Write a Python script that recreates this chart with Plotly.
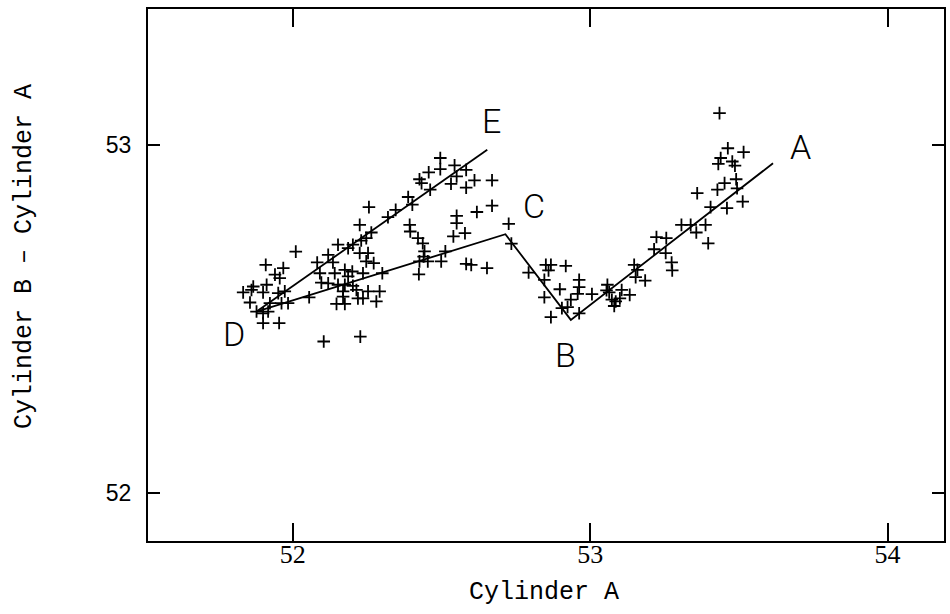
import plotly.graph_objects as go

# Scatter of the measured pairs: x = Cylinder A, y = Cylinder B - Cylinder A
cyl_a = [
    52.496, 52.496, 52.457, 52.544, 52.583, 52.551, 52.426, 52.433, 52.532, 52.611,
    52.670, 52.583, 52.462, 52.388, 52.402, 52.346, 52.320, 52.256, 52.670, 52.619,
    52.551, 52.551, 52.540, 52.579, 52.726, 52.735, 52.793, 52.393, 52.395, 52.421,
    52.437, 52.443, 52.440, 52.454, 52.426, 52.499, 52.513, 52.583, 52.600, 52.653,
    52.424, 52.301, 52.225, 52.264, 52.247, 52.230, 52.152, 52.186, 52.202, 52.119,
    52.225, 52.253, 52.247, 52.272, 52.082, 52.135, 52.091, 52.141, 52.175, 52.200,
    52.186, 52.236, 52.096, 52.119, 52.152, 52.175, 52.202, 52.169, 52.214, 52.253,
    52.292, 52.219, 52.236, 52.281, 52.147, 52.175, 52.169, 52.055, 52.010, 51.909,
    51.968, 51.940, 51.956, 51.867, 51.912, 51.833, 51.861, 51.900, 51.951, 51.973,
    51.856, 51.923, 51.962, 51.984, 51.878, 51.900, 51.917, 51.900, 51.954, 52.104,
    52.227,
    52.851, 52.868, 52.860, 52.918, 52.846, 52.963, 52.963, 52.958, 52.898, 52.846,
    52.935, 52.905, 52.924, 52.868, 52.963, 53.006, 53.058, 53.055, 53.064, 53.073,
    53.081, 53.086, 53.106, 53.133, 53.100, 53.148, 53.159, 53.153, 53.185,
    53.435, 53.463, 53.516, 53.439, 53.431, 53.478, 53.487, 53.491, 53.452, 53.428,
    53.494, 53.513, 53.360, 53.405, 53.460, 53.307, 53.338, 53.388, 53.357, 53.397,
    53.223, 53.256, 53.215, 53.254, 53.274, 53.276,
]
cyl_b_minus_a = [
    52.962, 52.930, 52.921, 52.941, 52.928, 52.909, 52.901, 52.890, 52.888, 52.898,
    52.898, 52.877, 52.871, 52.850, 52.828, 52.813, 52.792, 52.821, 52.825, 52.807,
    52.796, 52.775, 52.737, 52.746, 52.773, 52.716, 52.633, 52.770, 52.751, 52.732,
    52.717, 52.694, 52.679, 52.665, 52.665, 52.665, 52.694, 52.658, 52.655, 52.646,
    52.628, 52.631, 52.770, 52.748, 52.732, 52.725, 52.713, 52.703, 52.713, 52.684,
    52.689, 52.689, 52.665, 52.660, 52.662, 52.662, 52.631, 52.631, 52.641, 52.636,
    52.622, 52.631, 52.604, 52.602, 52.598, 52.598, 52.595, 52.579, 52.583, 52.579,
    52.579, 52.559, 52.559, 52.550, 52.543, 52.543, 52.564, 52.562, 52.693, 52.655,
    52.646, 52.627, 52.617, 52.593, 52.598, 52.576, 52.583, 52.576, 52.574, 52.579,
    52.547, 52.545, 52.545, 52.545, 52.521, 52.516, 52.521, 52.488, 52.488, 52.435,
    52.449,
    52.655, 52.655, 52.639, 52.652, 52.612, 52.612, 52.591, 52.572, 52.585, 52.562,
    52.555, 52.531, 52.534, 52.505, 52.516, 52.571, 52.598, 52.582, 52.576, 52.555,
    52.537, 52.550, 52.583, 52.569, 52.559, 52.655, 52.641, 52.620, 52.610,
    53.091, 52.990, 52.979, 52.962, 52.945, 52.952, 52.940, 52.901, 52.890, 52.871,
    52.875, 52.837, 52.861, 52.821, 52.818, 52.770, 52.770, 52.770, 52.748, 52.717,
    52.735, 52.732, 52.700, 52.689, 52.662, 52.639,
]

# Fitted branches: D-E, and D-C-B-A
branch_de_x = [51.878, 52.654]
branch_de_y = [52.521, 52.986]
branch_dcba_x = [51.878, 52.715, 52.935, 53.615]
branch_dcba_y = [52.521, 52.743, 52.497, 52.947]

# Letters naming the branch ends and corners
point_names = ["A", "B", "C", "D", "E"]
name_x = [53.707, 52.916, 52.812, 51.802, 52.667]
name_y = [52.995, 52.397, 52.823, 52.456, 53.067]

x_ticks = [52, 53, 54]
y_ticks = [52, 53]

fig = go.Figure()

fig.add_trace(go.Scatter(
    x=cyl_a, y=cyl_b_minus_a, mode="markers",
    marker=dict(symbol="cross-thin", size=9, color="black",
                line=dict(color="black", width=1.8)),
    hoverinfo="skip", showlegend=False,
))
fig.add_trace(go.Scatter(
    x=branch_de_x, y=branch_de_y, mode="lines",
    line=dict(color="black", width=1.8), showlegend=False,
))
fig.add_trace(go.Scatter(
    x=branch_dcba_x, y=branch_dcba_y, mode="lines",
    line=dict(color="black", width=1.8), showlegend=False,
))

for name, nx, ny in zip(point_names, name_x, name_y):
    fig.add_annotation(
        x=nx, y=ny, text=name, showarrow=False,
        xanchor="center", yanchor="middle",
        font=dict(family="Roboto", size=34, color="black", weight=300),
    )

# Axis titles
fig.add_annotation(
    x=0.497, y=-0.096, xref="paper", yref="paper", text="Cylinder A",
    showarrow=False, xanchor="center", yanchor="middle",
    font=dict(family="Liberation Mono", size=25, color="black"),
)
fig.add_annotation(
    x=-0.155, y=0.535, xref="paper", yref="paper",
    text="Cylinder B \u2013 Cylinder A", textangle=-90,
    showarrow=False, xanchor="center", yanchor="middle",
    font=dict(family="Liberation Mono", size=25, color="black"),
)

fig.update_xaxes(
    range=[51.513, 54.19], tickvals=x_ticks, ticktext=[str(v) for v in x_ticks],
    ticks="inside", ticklen=18, tickwidth=2, tickcolor="black",
    showline=True, linewidth=2, linecolor="black", mirror="ticks",
    showgrid=False, zeroline=False, ticklabelstandoff=-11,
    tickfont=dict(family="Liberation Serif", size=26, color="black"),
)
fig.update_yaxes(
    range=[51.862, 53.39], tickvals=y_ticks, ticktext=[str(v) for v in y_ticks],
    ticks="inside", ticklen=12, tickwidth=2, tickcolor="black",
    showline=True, linewidth=2, linecolor="black", mirror="ticks",
    showgrid=False, zeroline=False, ticklabelstandoff=10,
    tickfont=dict(family="Liberation Sans", size=23, color="black"),
)

fig.update_layout(
    width=950, height=614,
    margin=dict(l=148, r=4, t=9, b=73),
    paper_bgcolor="white", plot_bgcolor="white",
    showlegend=False,
)

fig.write_html("out.html")
